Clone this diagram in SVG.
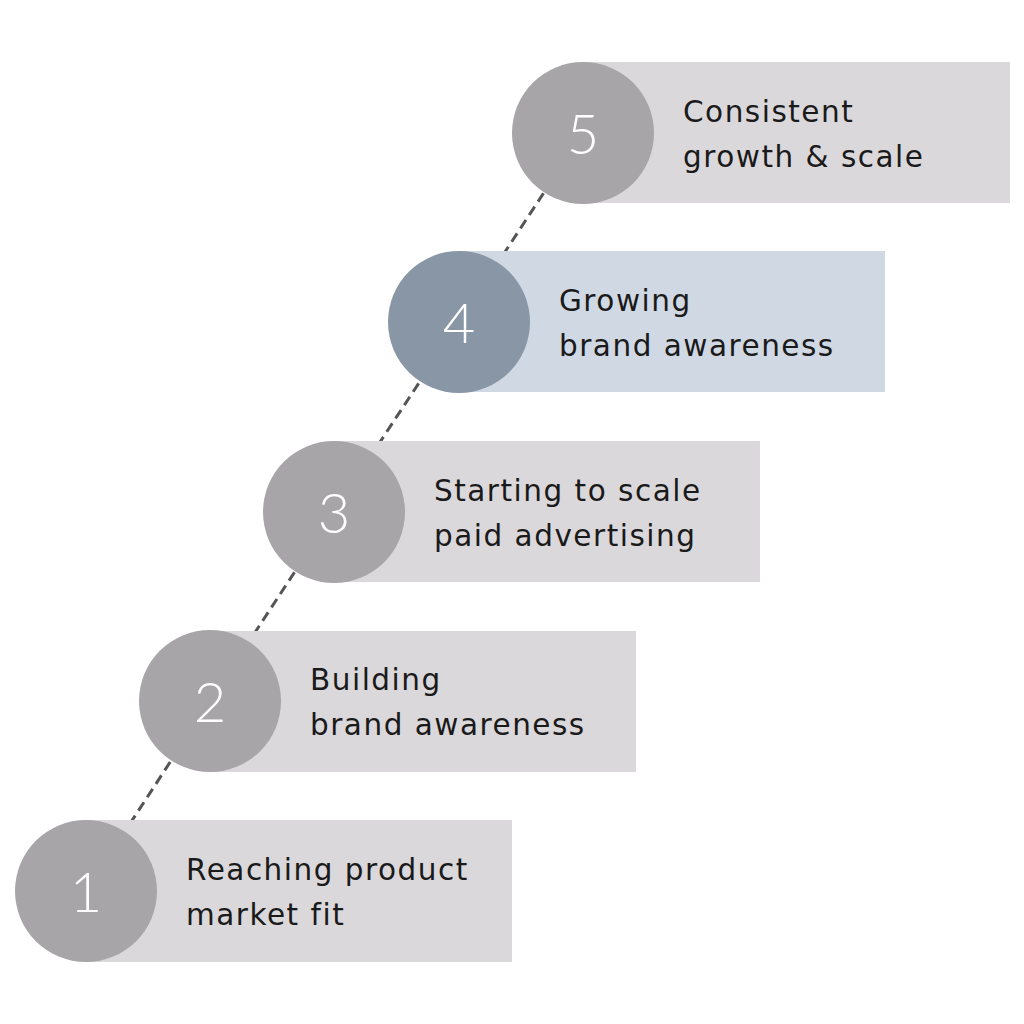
<svg xmlns="http://www.w3.org/2000/svg" width="1024" height="1024" viewBox="0 0 1024 1024">
<style>
.bar{fill:#dad8db}
.circ{fill:#a7a5a8}
.bar4{fill:#d0d8e4}
.circ4{fill:#8896a6}
.lbl{font-family:"DejaVu Sans","Liberation Sans",sans-serif;font-size:29.5px;letter-spacing:1.5px;fill:#1a1a1a}
.num{font-family:"Lato","Open Sans",sans-serif;font-weight:300;font-size:56px;fill:#ffffff;text-anchor:middle}
.dash{stroke:#555555;stroke-width:3;stroke-dasharray:10 6;fill:none}
</style>
<rect width="1024" height="1024" fill="#ffffff"/>
<g id="connectors">
<line class="dash" x1="86" y1="891" x2="210" y2="701"/>
<line class="dash" x1="210" y1="701" x2="334" y2="512"/>
<line class="dash" x1="334" y1="512" x2="459" y2="322"/>
<line class="dash" x1="459" y1="322" x2="583" y2="133"/>
</g>
<g id="step1">
<rect class="bar" x="86" y="820" width="426" height="142"/>
<circle class="circ" cx="86" cy="891" r="71"/>
<text class="num" x="86" y="912">1</text>
<text class="lbl" x="186" y="880">Reaching product</text>
<text class="lbl" x="186" y="925">market fit</text>
</g>
<g id="step2">
<rect class="bar" x="210" y="631" width="426" height="141"/>
<circle class="circ" cx="210" cy="701" r="71"/>
<text class="num" x="210" y="722">2</text>
<text class="lbl" x="310" y="690">Building</text>
<text class="lbl" x="310" y="735">brand awareness</text>
</g>
<g id="step3">
<rect class="bar" x="334" y="441" width="426" height="141"/>
<circle class="circ" cx="334" cy="512" r="71"/>
<text class="num" x="334" y="533">3</text>
<text class="lbl" x="434" y="501">Starting to scale</text>
<text class="lbl" x="434" y="546">paid advertising</text>
</g>
<g id="step4">
<rect class="bar4" x="459" y="251" width="426" height="141"/>
<circle class="circ4" cx="459" cy="322" r="71"/>
<text class="num" x="459" y="343">4</text>
<text class="lbl" x="559" y="311">Growing</text>
<text class="lbl" x="559" y="356">brand awareness</text>
</g>
<g id="step5">
<rect class="bar" x="583" y="62" width="427" height="141"/>
<circle class="circ" cx="583" cy="133" r="71"/>
<text class="num" x="583" y="154">5</text>
<text class="lbl" x="683" y="122">Consistent</text>
<text class="lbl" x="683" y="167">growth &amp; scale</text>
</g>
</svg>
